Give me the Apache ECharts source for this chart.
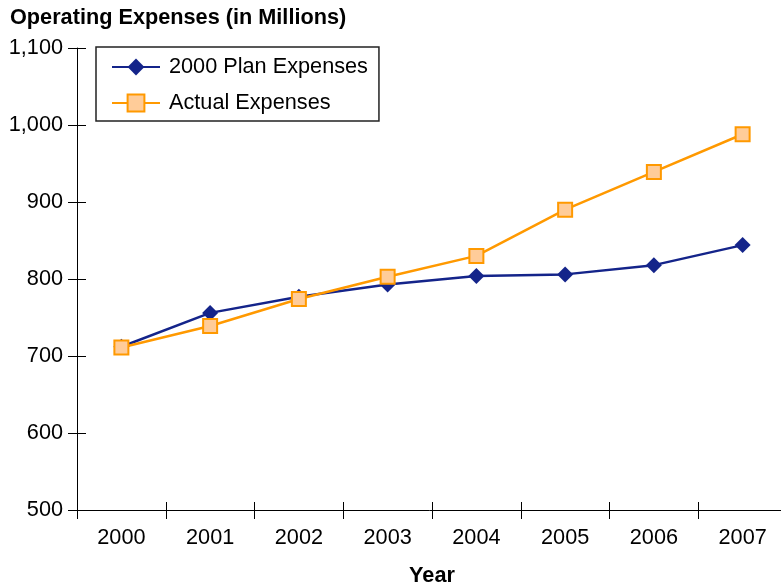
<!DOCTYPE html>
<html>
<head>
<meta charset="utf-8">
<script src="https://cdn.jsdelivr.net/npm/echarts@6/dist/echarts.min.js"></script>
<style>
html,body{margin:0;padding:0;background:#fff;}
#chart{width:781px;height:584px;}
</style>
</head>
<body>
<div id="chart"></div>
<script>
var years = ['2000','2001','2002','2003','2004','2005','2006','2007'];
var planExpenses = [712, 756, 777, 793, 804, 806, 818, 844];
var actualExpenses = [711, 739, 774, 803, 830, 890, 939, 988];
var yTicks = [500, 600, 700, 800, 900, 1000, 1100];

var FONT = 'Liberation Sans, Arial, sans-serif';
var FS = 21.7;
var chart = echarts.init(document.getElementById('chart'), null, {renderer: 'canvas'});

function fmt(v) { return String(v).replace(/\B(?=(\d{3})+(?!\d))/g, ','); }

var yMin = yTicks[0], yMax = yTicks[yTicks.length - 1], yStep = yTicks[1] - yTicks[0];

var option = {
  animation: false,
  backgroundColor: '#fff',
  title: {
    text: 'Operating Expenses (in Millions)',
    left: 5, top: 2,
    textStyle: {fontFamily: FONT, fontSize: FS, fontWeight: 'bold', color: '#000'}
  },
  legend: {
    orient: 'vertical',
    left: 96, top: 47,
    padding: [9, 11, 7, 15],
    itemWidth: 48, itemHeight: 21, itemGap: 14,
    borderColor: '#222', borderWidth: 1.5,
    textStyle: {fontFamily: FONT, fontSize: FS, color: '#000', padding: [0, 0, 0, 4]},
    data: ['2000 Plan Expenses', 'Actual Expenses']
  },
  grid: {left: 77, width: 710, top: 48, height: 462, containLabel: false, outerBoundsMode: 'none'},
  xAxis: [{
    type: 'category', data: years, position: 'bottom', boundaryGap: true,
    name: 'Year', nameLocation: 'middle', nameGap: 55,
    nameTextStyle: {fontFamily: FONT, fontSize: FS, fontWeight: 'bold', color: '#000'},
    axisLine: {onZero: false, lineStyle: {color: '#000', width: 1}},
    axisTick: {show: true, inside: false, length: 9, interval: 0, lineStyle: {color: '#000'}},
    axisLabel: {interval: 0, margin: 17, fontFamily: FONT, fontSize: FS, color: '#000'},
    splitLine: {show: false}
  }, {
    type: 'category', data: years, position: 'bottom', boundaryGap: true,
    axisLine: {show: false, onZero: false},
    axisTick: {show: true, inside: true, length: 8, interval: 0, lineStyle: {color: '#000'}},
    axisLabel: {show: false},
    splitLine: {show: false}
  }],
  yAxis: [{
    type: 'value', min: yMin, max: yMax, interval: yStep, position: 'left',
    axisLine: {show: true, onZero: false, lineStyle: {color: '#000', width: 1}},
    axisTick: {show: true, inside: false, length: 9, lineStyle: {color: '#000'}},
    axisLabel: {margin: 14, fontFamily: FONT, fontSize: FS, color: '#000', formatter: fmt},
    splitLine: {show: false}
  }, {
    type: 'value', min: yMin, max: yMax, interval: yStep, position: 'left',
    axisLine: {show: false, onZero: false},
    axisTick: {show: true, inside: true, length: 9, lineStyle: {color: '#000'}},
    axisLabel: {show: false},
    splitLine: {show: false}
  }],
  series: [{
    name: '2000 Plan Expenses', type: 'line', data: planExpenses,
    xAxisIndex: 0, yAxisIndex: 0,
    symbol: 'diamond', symbolSize: 16,
    lineStyle: {color: '#14248A', width: 2.5},
    itemStyle: {color: '#14248A', borderWidth: 0}
  }, {
    name: 'Actual Expenses', type: 'line', data: actualExpenses,
    xAxisIndex: 0, yAxisIndex: 0,
    symbol: 'rect', symbolSize: 14,
    lineStyle: {color: '#FF9900', width: 2.5},
    itemStyle: {color: '#FFCC99', borderColor: '#FF9900', borderWidth: 2}
  }]
};
chart.setOption(option);
</script>
</body>
</html>
